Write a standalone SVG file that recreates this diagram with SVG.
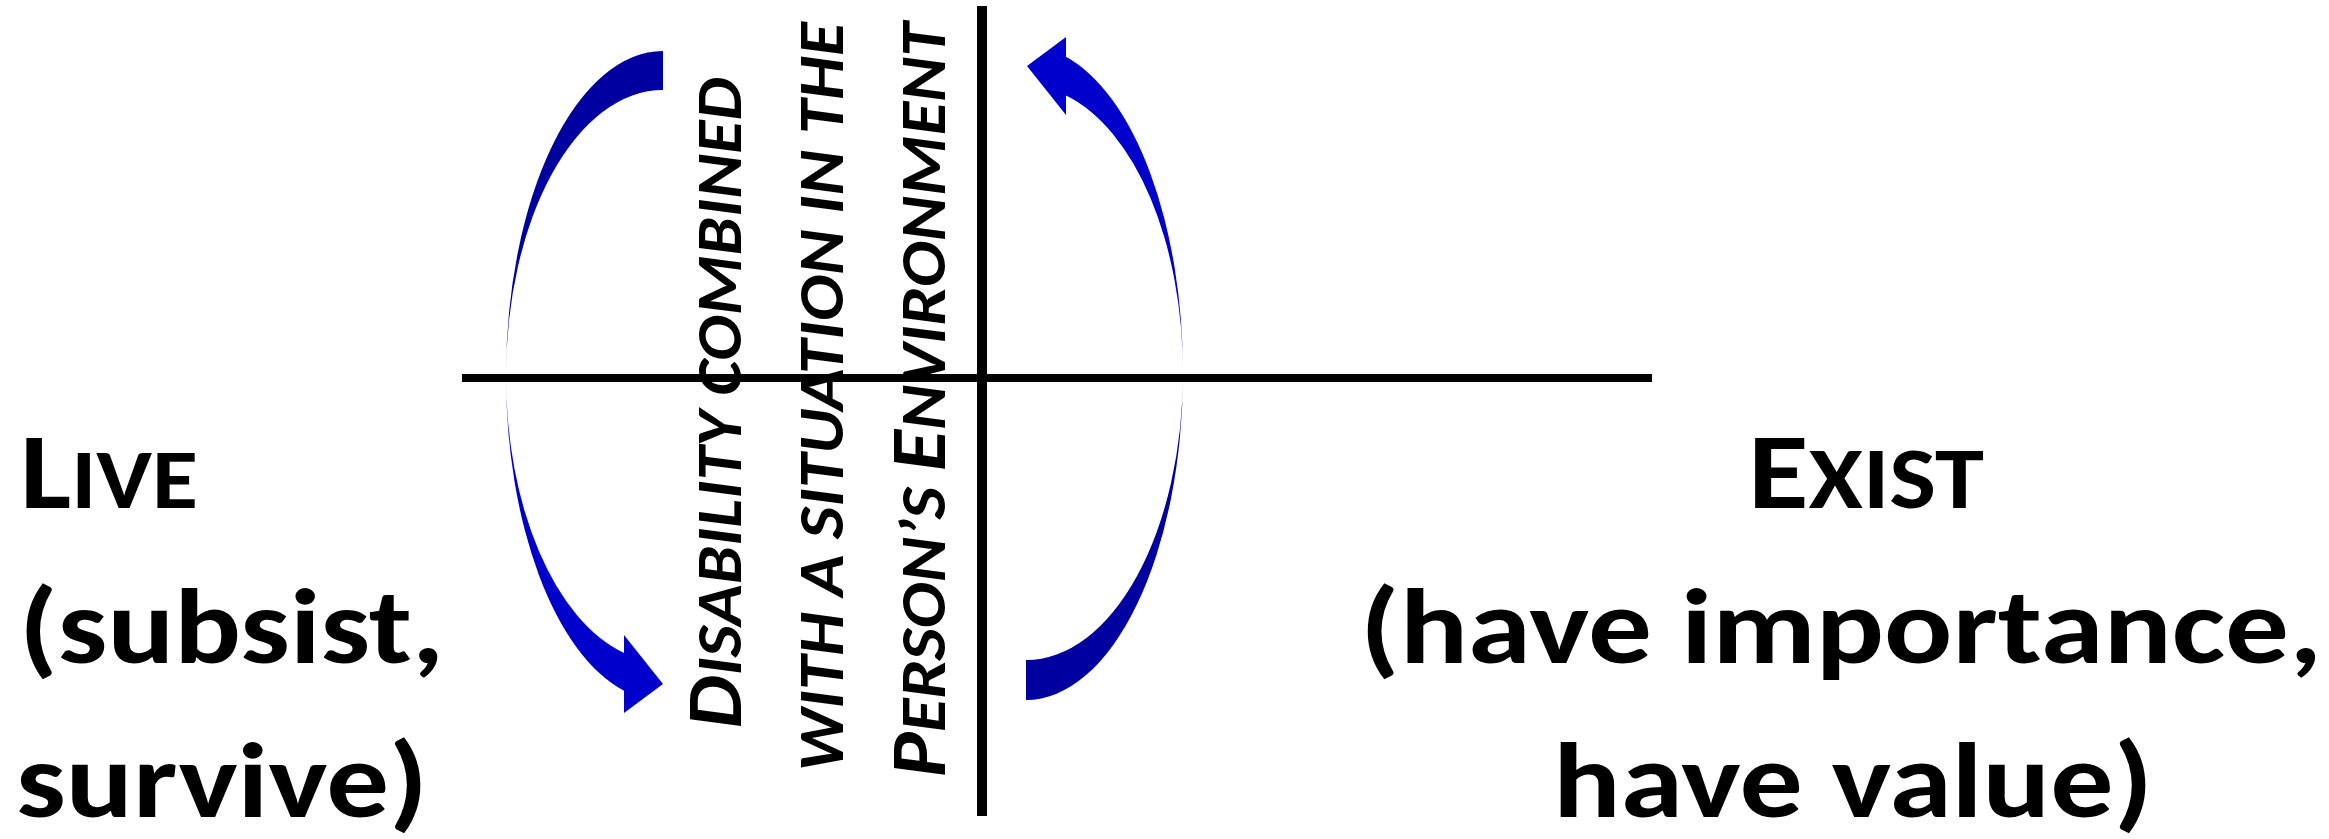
<svg xmlns="http://www.w3.org/2000/svg" width="2329" height="839" viewBox="0 0 2329 839">
  <style>
    .t { font-family: Carlito, Lato, "Liberation Sans", sans-serif; font-weight: 700; fill: #000; }
    .it { font-style: italic; }
    .big { font-size: 80px; }
    .sc { font-size: 65px; }
    .axis { stroke: #000; fill: none; }
    .dark { fill: #0000A0; }
    .bright { fill: #0000CC; }
  </style>
  <rect width="2329" height="839" fill="#fff"/>

  <g id="axes">
    <line class="axis" x1="462" y1="378" x2="1652" y2="378" stroke-width="8"/>
    <line class="axis" x1="982" y1="6" x2="982" y2="816" stroke-width="10"/>
  </g>

  <g id="connectors">
    <g id="arrow-left">
      <path class="dark" d="M663,51 A157,325 0 0 0 506,376 A157,286 0 0 1 663,90 Z"/>
      <path class="bright" d="M506,376 A157,325 0 0 0 624,690.8 L624,713 L663,684 L624,635 L624,653 A157,286 0 0 1 506,376 Z"/>
    </g>
    <g id="arrow-right">
      <path class="dark" d="M1026,700 A157,327 0 0 0 1183,373 A157,287 0 0 1 1026,660 Z"/>
      <path class="bright" d="M1183,373 A157,327 0 0 0 1066,56.8 L1066,37 L1027,66 L1066,115 L1066,95.5 A157,287 0 0 1 1183,373 Z"/>
    </g>
  </g>

  <g id="center-label">
    <text class="t it" transform="translate(741,403) rotate(-90)" text-anchor="middle" textLength="651" lengthAdjust="spacingAndGlyphs"><tspan class="big">D</tspan><tspan class="sc">ISABILITY COMBINED</tspan></text>
    <text class="t it" transform="translate(843,397) rotate(-90)" text-anchor="middle" textLength="749" lengthAdjust="spacingAndGlyphs"><tspan class="sc">WITH A SITUATION IN THE</tspan></text>
    <text class="t it" transform="translate(945,400) rotate(-90)" text-anchor="middle" textLength="755" lengthAdjust="spacingAndGlyphs"><tspan class="big">P</tspan><tspan class="sc">ERSON’S </tspan><tspan class="big">E</tspan><tspan class="sc">NVIRONMENT</tspan></text>
  </g>

  <g id="live">
    <text class="t" x="20" y="508" textLength="178" lengthAdjust="spacingAndGlyphs"><tspan font-size="108">L</tspan><tspan font-size="84">IVE</tspan></text>
    <text class="t" x="19" y="663" font-size="108" textLength="425" lengthAdjust="spacingAndGlyphs">(subsist,</text>
    <text class="t" x="16" y="817" font-size="108" textLength="412" lengthAdjust="spacingAndGlyphs">survive)</text>
  </g>

  <g id="exist">
    <text class="t" x="1748" y="508" textLength="236" lengthAdjust="spacingAndGlyphs"><tspan font-size="108">E</tspan><tspan font-size="86">XIST</tspan></text>
    <text class="t" x="1360" y="663" font-size="108" textLength="962" lengthAdjust="spacingAndGlyphs">(have importance,</text>
    <text class="t" x="1553" y="817" font-size="108" textLength="600" lengthAdjust="spacingAndGlyphs">have value)</text>
  </g>
</svg>
